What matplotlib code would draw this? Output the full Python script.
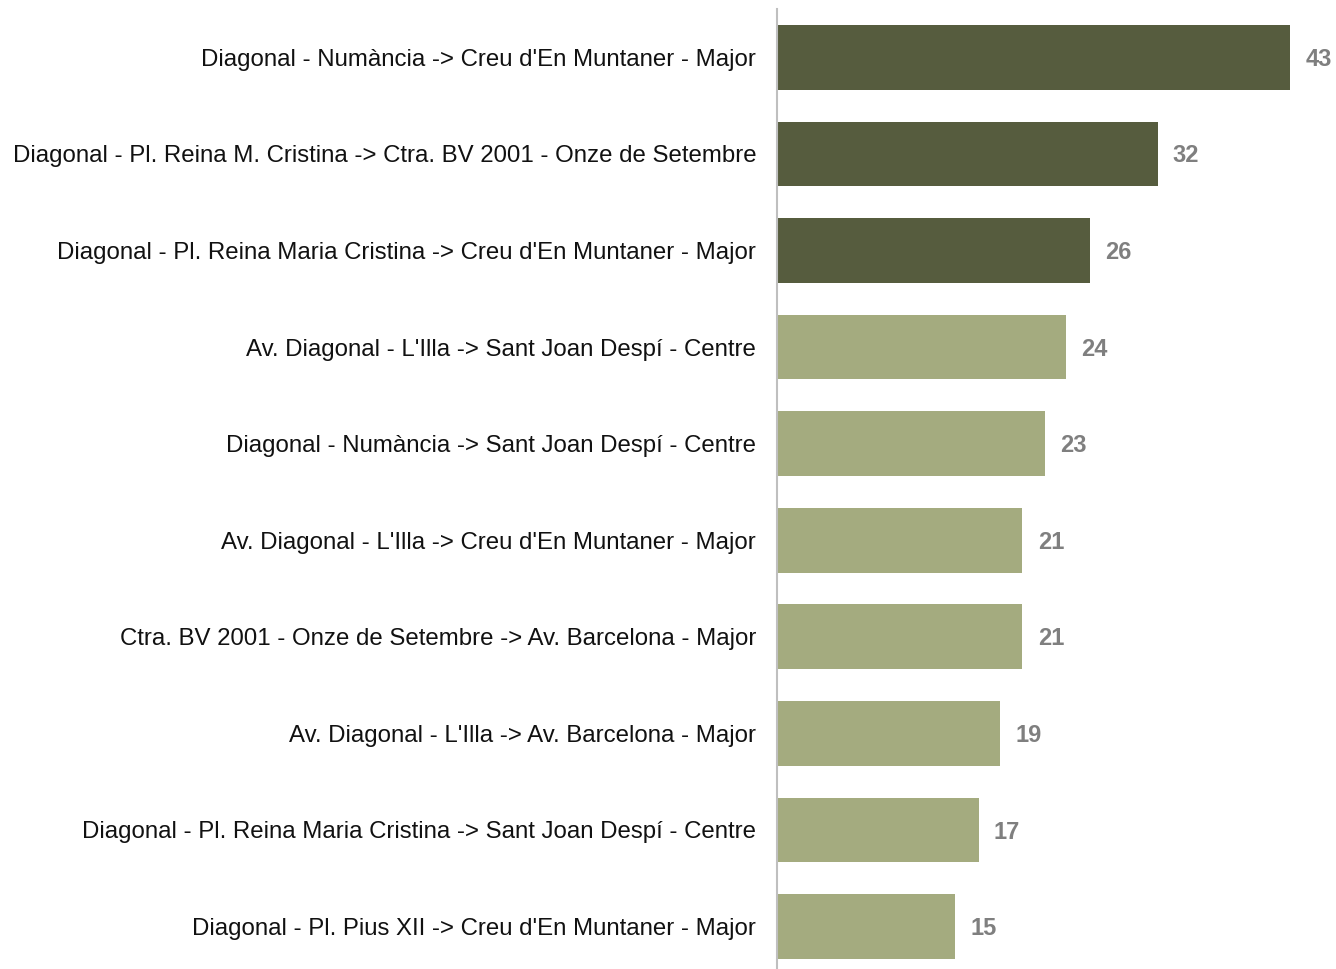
import matplotlib
matplotlib.use("Agg")
import matplotlib.pyplot as plt

categories = [
    "Diagonal - Numància -> Creu d'En Muntaner - Major",
    "Diagonal - Pl. Reina M. Cristina -> Ctra. BV 2001 - Onze de Setembre",
    "Diagonal - Pl. Reina Maria Cristina -> Creu d'En Muntaner - Major",
    "Av. Diagonal - L'Illa -> Sant Joan Despí - Centre",
    "Diagonal - Numància -> Sant Joan Despí - Centre",
    "Av. Diagonal - L'Illa -> Creu d'En Muntaner - Major",
    "Ctra. BV 2001 - Onze de Setembre -> Av. Barcelona - Major",
    "Av. Diagonal - L'Illa -> Av. Barcelona - Major",
    "Diagonal - Pl. Reina Maria Cristina -> Sant Joan Despí - Centre",
    "Diagonal - Pl. Pius XII -> Creu d'En Muntaner - Major",
]
values = [43.3, 32.1, 26.4, 24.4, 22.6, 20.7, 20.7, 18.8, 17.0, 15.0]
highlight = [True, True, True, False, False, False, False, False, False, False]

dark = "#565c3e"
light = "#a4ab7f"

plt.rcParams['font.family'] = ['Liberation Sans', 'DejaVu Sans']

fig = plt.figure(figsize=(13.36, 9.69), dpi=100)
W, H = 1336, 969
left, right, top, bottom = 777, 1336, 9, 969
ax = fig.add_axes([left / W, 1 - bottom / H, (right - left) / W, (bottom - top) / H])

ypos = list(range(len(categories)))
colors = [dark if h else light for h in highlight]
ax.barh(ypos, values, height=0.67, color=colors, zorder=2)

ax.set_xlim(0, 47.15)
ax.set_ylim(9.44, -0.5)

ax.set_yticks(ypos)
ax.set_yticklabels(categories, fontsize=17.3, color="#111111")
ax.tick_params(axis='y', length=0, pad=15)
ax.set_xticks([])

for s in ["top", "right", "bottom"]:
    ax.spines[s].set_visible(False)
ax.spines["left"].set_color("#bfbfbf")
ax.spines["left"].set_linewidth(1.5)

for y, v in zip(ypos, values):
    ax.annotate(f"{round(v)}", xy=(v, y), xytext=(11, -1.5), textcoords="offset points",
                va="center", ha="left", fontsize=17, fontweight="bold", color="#7f7f7f")

fig.savefig("out.png", dpi=100)
